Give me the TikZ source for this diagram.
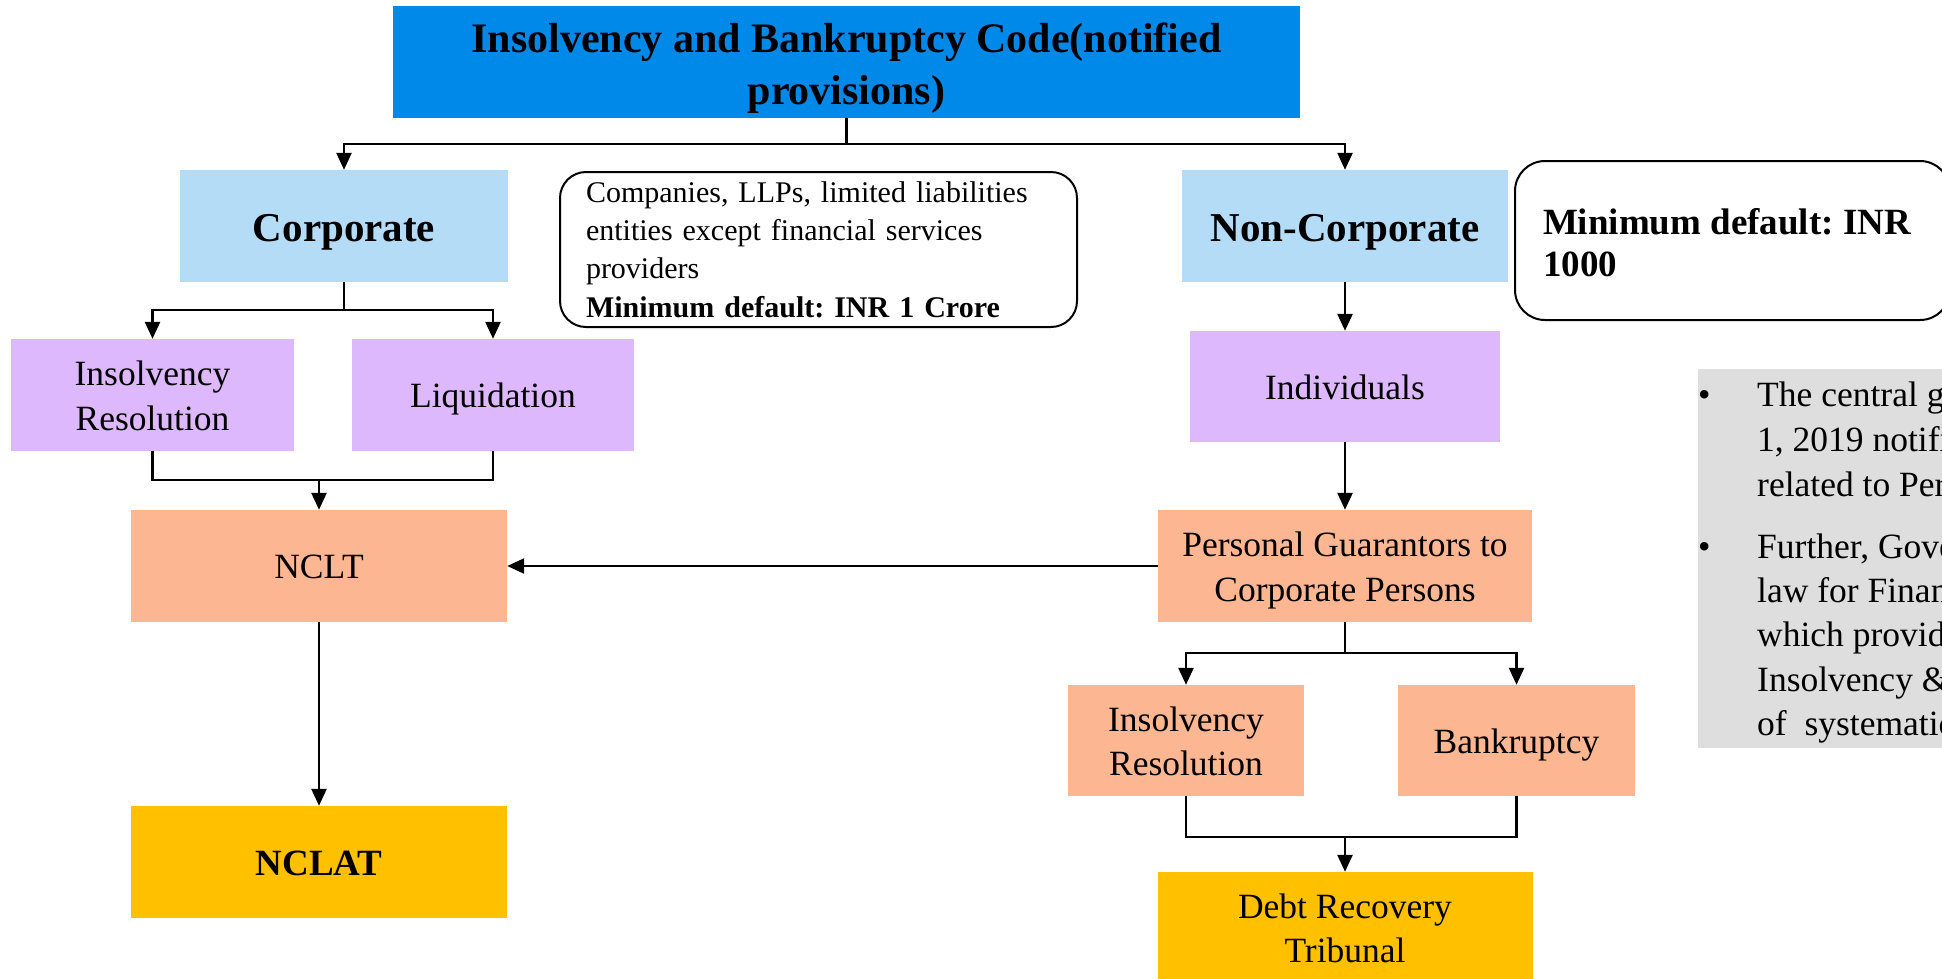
\documentclass[tikz,border=0pt]{standalone}
\usepackage{fontspec}
\setmainfont{Liberation Serif}
\usetikzlibrary{arrows.meta}
\definecolor{topblue}{RGB}{0,137,232}
\definecolor{lblue}{RGB}{180,220,246}
\definecolor{lpurple}{RGB}{222,184,252}
\definecolor{salmon}{RGB}{253,182,146}
\definecolor{gold}{RGB}{255,192,0}
\definecolor{lgrey}{RGB}{222,222,222}
\frenchspacing
% text block whose first baseline sits #1 above the node centre
\newcommand{\ctxt}[2]{\smash{\raisebox{#1}{\begin{tabular}[t]{@{}c@{}}#2\end{tabular}}}}
\begin{document}
\begin{tikzpicture}[x=1pt,y=-1pt,
  box/.style={draw=none, inner sep=0pt, text=black},
  regf/.style={font=\fontsize{35.5}{44.5}\selectfont},
  boldf/.style={font=\fontsize{41}{50}\selectfont\bfseries},
  conn/.style={line width=2.5pt, black},
  arr/.style={conn, -{Triangle[length=17pt,width=15pt]}},
  note/.style={draw=black, line width=2pt, rounded corners=26pt, fill=white, inner sep=0pt, align=left}
]
\useasboundingbox[fill=white] (0,0) rectangle (1942,978);

% top
\node[box, fill=topblue, minimum width=907pt, minimum height=112pt,
      font=\fontsize{42}{52}\selectfont\bfseries] (top) at (846.5,62)
      {\ctxt{10pt}{Insolvency and Bankruptcy Code(notified\\provisions)}};

% second level
\node[box, boldf, fill=lblue, minimum width=328pt, minimum height=112pt] (corp) at (344,226) {\ctxt{-15pt}{Corporate}};
\node[box, boldf, fill=lblue, minimum width=326pt, minimum height=112pt] (noncorp) at (1345,226) {\ctxt{-15pt}{Non-Corporate}};

\node[note, minimum width=517pt, minimum height=155pt, text width=465pt,
      font=\fontsize{30}{38.4}\selectfont] (comp) at (818.5,249.5)
      {Companies, LLPs, limited liabilities\\entities except financial services\\providers\\\textbf{Minimum default: INR 1 Crore}};

\begin{scope}
\clip (0,0) rectangle (1942,978);
\node[box, draw=black, line width=2pt, rounded corners=30pt, fill=white, minimum width=435pt, minimum height=159pt,
      font=\fontsize{37}{42.5}\selectfont\bfseries] (minbox) at (1732.5,240.5)
      {\smash{\raisebox{6.5pt}{\makebox[379pt][l]{\begin{tabular}[t]{@{}l@{}}Minimum default: INR\\1000\end{tabular}}}}};

\node[box, fill=lgrey, minimum width=262pt, minimum height=379pt] (grey) at (1829,558.5) {};
\node[box, regf, anchor=base west] (b1) at (1698,406) {\textbullet};
\node[box, regf, anchor=base west] (b2) at (1698,558) {\textbullet};
\node[box, regf, anchor=base west] (g1) at (1757,406) {The central government};
\node[box, regf, anchor=base west] (g2) at (1757,451) {1, 2019 notified};
\node[box, regf, anchor=base west] (g3) at (1757,496) {related to Personal};
\node[box, regf, anchor=base west] (g4) at (1757,558) {Further, Government};
\node[box, regf, anchor=base west] (g5) at (1757,602) {law for Financial};
\node[box, regf, anchor=base west] (g6) at (1757,646) {which provides};
\node[box, regf, anchor=base west] (g7) at (1757,691) {Insolvency \& Bankruptcy};
\node[box, regf, anchor=base west] (g8) at (1757,735) {of\ \ systematic};
\end{scope}

% third level
\node[box, regf, fill=lpurple, minimum width=283pt, minimum height=112pt] (ir1) at (152.5,395) {\ctxt{9.5pt}{Insolvency\\Resolution}};
\node[box, regf, fill=lpurple, minimum width=282pt, minimum height=112pt] (liq) at (493,395) {\ctxt{-12.5pt}{Liquidation}};
\node[box, regf, fill=lpurple, minimum width=310pt, minimum height=111pt] (indiv) at (1345,386.5) {\ctxt{-12.5pt}{Individuals}};

\node[box, regf, fill=salmon, minimum width=376pt, minimum height=112pt] (nclt) at (319,566) {\ctxt{-12.5pt}{NCLT}};
\node[box, regf, fill=salmon, minimum width=374pt, minimum height=112pt] (pg) at (1345,566) {\ctxt{9.5pt}{Personal Guarantors to\\Corporate Persons}};

\node[box, fill=gold, minimum width=376pt, minimum height=112pt, font=\fontsize{37}{44}\selectfont\bfseries] (nclat) at (319,862) {\ctxt{-13.5pt}{NCLAT}};

\node[box, regf, fill=salmon, minimum width=236pt, minimum height=111pt] (ir2) at (1186,740.5) {\ctxt{9.5pt}{Insolvency\\Resolution}};
\node[box, regf, fill=salmon, minimum width=237pt, minimum height=111pt] (bank) at (1516.5,740.5) {\ctxt{-12.5pt}{Bankruptcy}};

\node[box, regf, fill=gold, minimum width=375pt, minimum height=112pt] (drt) at (1345,928) {\ctxt{10pt}{Debt Recovery\\Tribunal}};

% connectors
\coordinate (j1) at (846.5,144);
\draw[conn] (top.south) -- (j1);
\draw[arr] (j1) -| (corp.north);
\draw[arr] (j1) -| (noncorp.north);

\coordinate (j2) at (344,310);
\draw[conn] (corp.south) -- (j2);
\draw[arr] (j2) -| (ir1.north);
\draw[arr] (j2) -| (liq.north);

\coordinate (j3) at (319,480);
\draw[conn] (ir1.south) |- (j3);
\draw[conn] (liq.south) |- (j3);
\draw[arr] (j3) -- (nclt.north);

\draw[arr] (nclt.south) -- (nclat.north);

\draw[arr] (noncorp.south) -- (indiv.north);
\draw[arr] (indiv.south) -- (pg.north);
\draw[arr] (pg.west) -- (nclt.east);

\coordinate (j4) at (1345,653);
\draw[conn] (pg.south) -- (j4);
\draw[arr] (j4) -| (ir2.north);
\draw[arr] (j4) -| (bank.north);

\coordinate (j5) at (1345,837);
\draw[conn] (ir2.south) |- (j5);
\draw[conn] (bank.south) |- (j5);
\draw[arr] (j5) -- (drt.north);
\end{tikzpicture}
\end{document}
